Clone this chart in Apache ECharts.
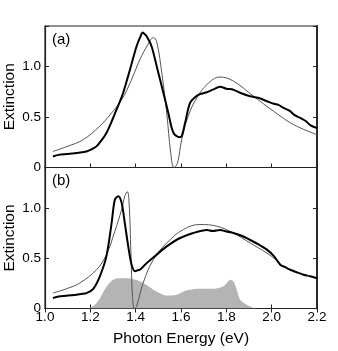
<!DOCTYPE html>
<html><head><meta charset="utf-8">
<script src="https://cdn.jsdelivr.net/npm/echarts@6/dist/echarts.min.js"></script>
<style>html,body{margin:0;padding:0;background:#fff}#c{width:338px;height:351px}</style>
</head><body><div id="c"></div>
<script>
// Panel (a) experimental (thick)
const expA_E = [1.035,1.06,1.095,1.13,1.16,1.183,1.205,1.227,1.25,1.271,1.295,1.316,1.345,1.375,1.404,1.42,1.431,1.44,1.448,1.47,1.493,1.522,1.544,1.559,1.57,1.581,1.592,1.603,1.618,1.64,1.67,1.69,1.714,1.74,1.772,1.80,1.831,1.86,1.905,1.94,1.979,2.01,2.03,2.052,2.08,2.1,2.126,2.15,2.17,2.2];
const expA_V = [0.109,0.125,0.133,0.14,0.15,0.159,0.18,0.209,0.27,0.342,0.46,0.574,0.74,0.97,1.20,1.29,1.336,1.32,1.30,1.20,1.00,0.74,0.54,0.39,0.33,0.31,0.30,0.31,0.44,0.64,0.71,0.73,0.745,0.77,0.80,0.78,0.77,0.74,0.705,0.69,0.656,0.63,0.62,0.59,0.56,0.52,0.49,0.46,0.42,0.39];
// Panel (a) fit (thin)
const fitA_E = [1.035,1.1,1.168,1.242,1.29,1.338,1.38,1.419,1.455,1.478,1.493,1.515,1.537,1.555,1.569,1.584,1.603,1.632,1.67,1.714,1.772,1.831,1.92,2.008,2.097,2.2];
const fitA_V = [0.159,0.21,0.275,0.41,0.53,0.67,0.86,1.07,1.22,1.286,1.24,0.94,0.54,0.14,0.0,0.04,0.275,0.51,0.69,0.82,0.895,0.855,0.705,0.557,0.424,0.325];
// Panel (b) experimental (thick)
const expB_E = [1.035,1.06,1.095,1.13,1.16,1.183,1.212,1.242,1.271,1.294,1.308,1.323,1.338,1.352,1.367,1.382,1.397,1.41,1.419,1.448,1.493,1.537,1.596,1.654,1.714,1.74,1.772,1.80,1.831,1.87,1.905,1.94,1.979,2.01,2.038,2.06,2.082,2.11,2.141,2.17,2.2];
const expB_V = [0.103,0.12,0.127,0.135,0.145,0.153,0.193,0.32,0.52,0.85,1.08,1.115,1.05,0.85,0.62,0.435,0.37,0.38,0.385,0.45,0.535,0.617,0.70,0.75,0.78,0.77,0.78,0.765,0.75,0.72,0.68,0.64,0.585,0.52,0.435,0.41,0.385,0.36,0.335,0.32,0.30];
// Panel (b) fit (thin)
const fitB_E = [1.035,1.1,1.153,1.227,1.271,1.308,1.338,1.352,1.363,1.371,1.379,1.386,1.394,1.404,1.433,1.478,1.537,1.61,1.684,1.758,1.831,1.905,1.979,2.038];
const fitB_V = [0.153,0.2,0.253,0.385,0.535,0.767,0.983,1.115,1.16,1.05,0.55,0.12,0.0,0.02,0.253,0.485,0.65,0.784,0.834,0.817,0.75,0.65,0.55,0.45];
// Panel (b) gray filled spectrum
const grayE = [1.195,1.22,1.242,1.271,1.301,1.33,1.36,1.39,1.419,1.45,1.478,1.51,1.537,1.581,1.625,1.684,1.743,1.787,1.805,1.817,1.831,1.846,1.861,1.89,1.927];
const grayV = [0.0,0.037,0.10,0.215,0.286,0.30,0.30,0.29,0.27,0.23,0.187,0.15,0.128,0.137,0.18,0.196,0.196,0.22,0.26,0.286,0.27,0.187,0.087,0.037,0.0];
const xTicks = [1.0,1.2,1.4,1.6,1.8,2.0,2.2];
const yTicks = [0,0.5,1.0];
const panelLabels = ['(a)','(b)'];

const zip = (a,b)=>a.map((v,i)=>[v,b[i]]);
const FONT = 'Liberation Sans, Arial, sans-serif';
const chart = echarts.init(document.getElementById('c'), null, {renderer:'canvas'});
const yFmt = v => yTicks.some(t=>Math.abs(t-v)<1e-6) ? (v===0?'0':v.toFixed(1)) : '';
const xFmt = v => xTicks.some(t=>Math.abs(t-v)<1e-6) ? v.toFixed(1) : '';
const grids = [
  {left:45, right:21, top:26, height:141.5, show:true, borderColor:'#222', borderWidth:1.2, backgroundColor:'transparent', outerBoundsMode:'none', containLabel:false},
  {left:45, right:21, top:167.5, height:141, show:true, borderColor:'#222', borderWidth:1.2, backgroundColor:'transparent', outerBoundsMode:'none', containLabel:false}
];
function xAx(gi, pos, showLabel, showTick, name){
  return {type:'value', gridIndex:gi, position:pos, min:1.0, max:2.2, interval:0.2,
    axisLine:{show:true, lineStyle:{color:'#222', width:1.2}},
    axisTick:{show:showTick, inside:true, length:4, lineStyle:{color:'#222'}},
    axisLabel:{show:showLabel, formatter:xFmt, color:'#000', fontSize:13.5, fontFamily:FONT, margin:2},
    splitLine:{show:false}, nameMoveOverlap:false,
    name:name||'', nameLocation:'middle', nameGap:22, nameTextStyle:{color:'#000', fontSize:15.5, fontFamily:FONT}};
}
function yAx(gi, pos, showLabel, name){
  return {type:'value', gridIndex:gi, position:pos, min:0, max:1.4, interval:0.5,
    axisLine:{show:true, lineStyle:{color:'#222', width: pos==='right'?1.8:1.2}},
    axisTick:{show:true, inside:true, length:4, lineStyle:{color:'#222'}},
    axisLabel:{show:showLabel, formatter:yFmt, color:'#000', fontSize:13.5, fontFamily:FONT, margin:4},
    splitLine:{show:false}, nameMoveOverlap:false,
    name:name||'', nameLocation:'middle', nameGap:27, nameRotate:90,
    nameTextStyle:{color:'#000', fontSize:15.5, fontFamily:FONT}};
}
const option = {
  animation:false,
  backgroundColor:'#fff',
  grid: grids,
  xAxis: [xAx(0,'bottom',false,true), xAx(1,'bottom',true,true,'Photon Energy (eV)'), xAx(1,'top',false,true)],
  yAxis: [yAx(0,'left',true,'Extinction'), yAx(0,'right',false), yAx(1,'left',true,'Extinction'), yAx(1,'right',false)],
  graphic: [
    {type:'text', left:52, top:32, style:{text:panelLabels[0], fontSize:15, fontFamily:FONT, fill:'#000'}},
    {type:'text', left:52, top:173, style:{text:panelLabels[1], fontSize:15, fontFamily:FONT, fill:'#000'}}
  ],
  series: [
    {type:'line', xAxisIndex:1, yAxisIndex:2, data:zip(grayE,grayV), symbol:'none', smooth:0.3,
      lineStyle:{width:0}, areaStyle:{color:'#b4b4b4', opacity:1}, z:1},
    {type:'line', xAxisIndex:0, yAxisIndex:0, data:zip(fitA_E,fitA_V), symbol:'none', smooth:0.4,
      lineStyle:{width:1, color:'#555'}, z:2},
    {type:'line', xAxisIndex:0, yAxisIndex:0, data:zip(expA_E,expA_V), symbol:'none', smooth:0.3,
      lineStyle:{width:2, color:'#000'}, z:3},
    {type:'line', xAxisIndex:1, yAxisIndex:2, data:zip(fitB_E,fitB_V), symbol:'none', smooth:0.4,
      lineStyle:{width:1, color:'#555'}, z:2},
    {type:'line', xAxisIndex:1, yAxisIndex:2, data:zip(expB_E,expB_V), symbol:'none', smooth:0.3,
      lineStyle:{width:2, color:'#000'}, z:3}
  ]
};
chart.setOption(option);
</script></body></html>
